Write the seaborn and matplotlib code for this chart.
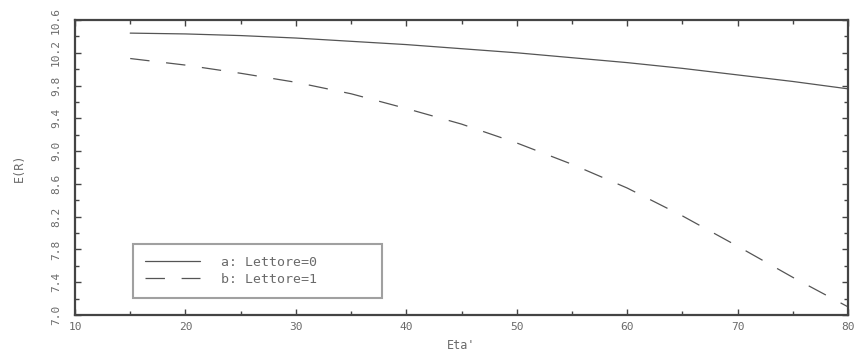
import matplotlib
matplotlib.use("Agg")
import matplotlib.pyplot as plt
from matplotlib.ticker import MultipleLocator
import seaborn as sns
import pandas as pd

eta = [15, 20, 25, 30, 35, 40, 45, 50, 55, 60, 65, 70, 75, 80]
er_lettore0 = [10.44, 10.43, 10.41, 10.38, 10.34, 10.30, 10.25, 10.20, 10.14, 10.08, 10.01, 9.93, 9.85, 9.76]
er_lettore1 = [10.13, 10.05, 9.95, 9.84, 9.70, 9.52, 9.33, 9.10, 8.84, 8.55, 8.21, 7.84, 7.46, 7.10]
series_labels = ["a: Lettore=0", "b: Lettore=1"]
x_ticks = [10, 20, 30, 40, 50, 60, 70, 80]
y_ticks = [7.0, 7.4, 7.8, 8.2, 8.6, 9.0, 9.4, 9.8, 10.2, 10.6]

df = pd.DataFrame({
    "Eta'": eta + eta,
    "E(R)": er_lettore0 + er_lettore1,
    "serie": [series_labels[0]] * len(eta) + [series_labels[1]] * len(eta),
})

sns.set_style("ticks")
plt.rcParams["font.family"] = ["DejaVu Sans Mono", "DejaVu Sans"]
plt.rcParams["lines.scale_dashes"] = False

txt = "#6a6a6a"
fig = plt.figure(figsize=(8.56, 3.54), dpi=100)
ax = fig.add_axes([0.0876, 0.110, 0.9031, 0.8335])

sns.lineplot(data=df, x="Eta'", y="E(R)", hue="serie", style="serie",
             palette={series_labels[0]: "#555555", series_labels[1]: "#555555"},
             dashes={series_labels[0]: "", series_labels[1]: (14, 12)},
             linewidth=0.9, ax=ax, legend=True)

ax.set_xlim(10, 80)
ax.set_ylim(7.0, 10.6)
ax.set_xticks(x_ticks)
ax.set_yticks(y_ticks)
ax.xaxis.set_minor_locator(MultipleLocator(5))
ax.yaxis.set_minor_locator(MultipleLocator(0.2))
ax.set_xticklabels([str(v) for v in x_ticks], fontsize=8, color=txt)
ax.set_yticklabels([f"{v:.1f}" for v in y_ticks], fontsize=8, color=txt,
                   rotation=90, va="center")
ax.tick_params(which="both", direction="in", top=True, right=True,
               color="#444444", width=1.0)
ax.tick_params(axis="x", which="major", length=4, pad=5)
ax.tick_params(axis="y", which="major", length=4, pad=10)
ax.tick_params(which="minor", length=3)
for s in ax.spines.values():
    s.set_visible(True)
    s.set_color("#444444")
    s.set_linewidth(1.6)

ax.set_xlabel("Eta'", fontsize=8.5, color=txt, labelpad=5)
ax.set_ylabel("E(R)", fontsize=8.5, color=txt, labelpad=18)

handles, labels = ax.get_legend_handles_labels()
leg = ax.legend(handles, labels, loc="lower left",
                bbox_to_anchor=(0.075, 0.058, 0.322, 0.17), mode="expand",
                fontsize=9.5, frameon=True, fancybox=False, handlelength=4.2,
                handletextpad=1.6, borderpad=0.9, labelspacing=0.3,
                labelcolor=txt, borderaxespad=0)
leg.get_frame().set_edgecolor("#888888")
leg.get_frame().set_linewidth(1.5)

fig.savefig("out.png", dpi=100)
